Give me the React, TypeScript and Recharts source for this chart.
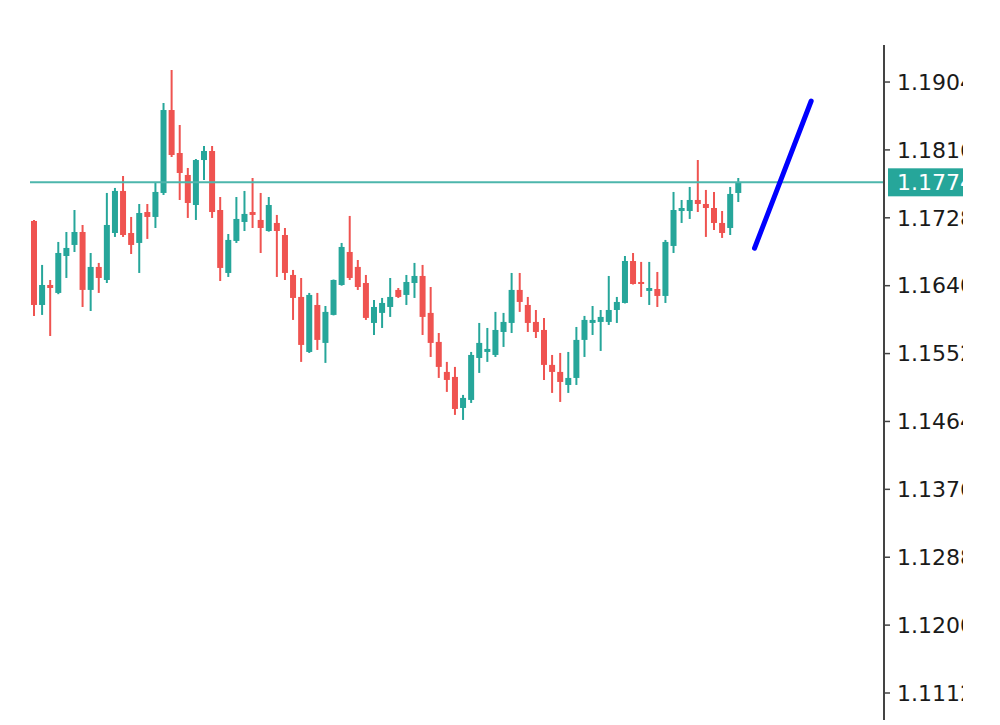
import { ComposedChart, Bar, Line, XAxis, YAxis, ReferenceLine } from "recharts";

const TEAL = "#26a69a";
const RED = "#ef5350";

// OHLC per candle
const opens = [
  1.17239, 1.1615, 1.16409, 1.16306, 1.16785, 1.16928, 1.17096, 1.16345, 1.16643, 1.16474,
  1.17083, 1.17628, 1.17083, 1.16954, 1.17355, 1.17291, 1.17602, 1.18677, 1.1812, 1.17835,
  1.17446, 1.18029, 1.18146, 1.17381, 1.16565, 1.1698, 1.17226, 1.17355, 1.17252, 1.17109,
  1.17213, 1.17057, 1.16539, 1.16254, 1.15541, 1.1615, 1.15658, 1.16021, 1.16409, 1.16837,
  1.16643, 1.16435, 1.15917, 1.16047, 1.16124, 1.16345, 1.1628, 1.16435, 1.16526, 1.16047,
  1.15671, 1.15282, 1.15217, 1.14815, 1.14919, 1.15463, 1.15541, 1.15502, 1.158, 1.15917,
  1.16345, 1.1615, 1.1593, 1.15826, 1.15373, 1.15282, 1.15113, 1.15204, 1.15697, 1.15917,
  1.1593, 1.1593, 1.16085, 1.16176, 1.1672, 1.16448, 1.16332, 1.16357, 1.16267, 1.16915,
  1.17368, 1.17368, 1.17511, 1.17459, 1.17407, 1.17213, 1.17148, 1.17602,
];
const highs = [
  1.17252, 1.16669, 1.16474, 1.16967, 1.17096, 1.17381, 1.17187, 1.16824, 1.16695, 1.17602,
  1.17667, 1.17822, 1.17291, 1.17459, 1.17459, 1.17731, 1.18768, 1.19196, 1.18483, 1.17926,
  1.18042, 1.18211, 1.18211, 1.1755, 1.1707, 1.1755, 1.17628, 1.17796, 1.17602, 1.1755,
  1.17317, 1.17148, 1.16604, 1.165, 1.16306, 1.16306, 1.16137, 1.1648, 1.16954, 1.17304,
  1.16733, 1.16539, 1.16215, 1.16241, 1.165, 1.1637, 1.16539, 1.16695, 1.16669, 1.16383,
  1.15787, 1.15412, 1.15347, 1.14984, 1.15541, 1.15917, 1.15852, 1.1606, 1.16047, 1.16565,
  1.16565, 1.16254, 1.16085, 1.15982, 1.15502, 1.15528, 1.15541, 1.15865, 1.16008, 1.16137,
  1.16085, 1.16526, 1.16254, 1.16785, 1.16824, 1.16708, 1.16708, 1.16578, 1.16993, 1.17615,
  1.17511, 1.1768, 1.18029, 1.17641, 1.17615, 1.17368, 1.1768, 1.17796,
];
const lows = [
  1.16008, 1.16021, 1.15748, 1.1629, 1.165, 1.16837, 1.16124, 1.16072, 1.16306, 1.16435,
  1.17032, 1.17032, 1.16811, 1.16565, 1.17006, 1.17148, 1.17576, 1.18068, 1.17511, 1.17278,
  1.17252, 1.1777, 1.17278, 1.16461, 1.16513, 1.16954, 1.17109, 1.17148, 1.16824, 1.171,
  1.16513, 1.16474, 1.15956, 1.15412, 1.15528, 1.15567, 1.15399, 1.16015, 1.164, 1.16474,
  1.16345, 1.15956, 1.15761, 1.15852, 1.15995, 1.16241, 1.1615, 1.16241, 1.15761, 1.15476,
  1.15204, 1.15023, 1.14725, 1.1466, 1.1488, 1.15269, 1.15412, 1.15476, 1.15606, 1.15787,
  1.1606, 1.158, 1.15722, 1.15178, 1.1501, 1.14893, 1.1501, 1.15113, 1.15476, 1.15761,
  1.15554, 1.15891, 1.15917, 1.1617, 1.16415, 1.16254, 1.1615, 1.16124, 1.16176, 1.16824,
  1.17213, 1.17265, 1.17355, 1.17032, 1.17122, 1.17019, 1.17057, 1.17485,
];
const closes = [
  1.1615, 1.16409, 1.1637, 1.16824, 1.16889, 1.17096, 1.16345, 1.16643, 1.165, 1.17187,
  1.17628, 1.17057, 1.16928, 1.17342, 1.17291, 1.17615, 1.18677, 1.18094, 1.17861, 1.17472,
  1.18029, 1.18146, 1.17355, 1.1663, 1.16993, 1.17265, 1.1733, 1.17317, 1.17148, 1.17446,
  1.17109, 1.16565, 1.16241, 1.15632, 1.1628, 1.15697, 1.1606, 1.16474, 1.16902, 1.165,
  1.16383, 1.15982, 1.16124, 1.16176, 1.16254, 1.16254, 1.16448, 1.16526, 1.15995, 1.15658,
  1.15347, 1.15178, 1.14802, 1.14945, 1.15502, 1.15658, 1.1558, 1.15826, 1.1593, 1.16345,
  1.16189, 1.15917, 1.158, 1.15373, 1.15282, 1.15152, 1.15204, 1.15697, 1.15956, 1.15956,
  1.15995, 1.16085, 1.16189, 1.1672, 1.16422, 1.16435, 1.1637, 1.16267, 1.16967, 1.17381,
  1.17407, 1.17511, 1.17459, 1.17407, 1.17213, 1.17083, 1.17589, 1.1774,
];

// blue trend line: two anchor slots and their prices
const trendSlots = [89, 96];
const trendPrices = [1.16885, 1.18794];

const currentPrice = 1.1774;
const priceTicks = [1.1112, 1.12, 1.1288, 1.1376, 1.1464, 1.1552, 1.164, 1.1728, 1.1816, 1.1904];
const slotCount = 105;

const data = Array.from({ length: slotCount }, (_, i) => {
  const t = trendSlots.indexOf(i);
  return {
    i,
    open: opens[i],
    high: highs[i],
    low: lows[i],
    close: closes[i],
    trend: t >= 0 ? trendPrices[t] : null,
  };
});

function Candle(props: any) {
  const { x, y, width, height, payload } = props;
  if (!payload || payload.open == null) return null;
  const { open, high, low, close } = payload;
  const color = close >= open ? TEAL : RED;
  const top = Math.min(y, y + height);
  const h = Math.abs(height);
  const k = h / (high - low || 1e-9);
  const bodyTop = top + (high - Math.max(open, close)) * k;
  const bodyH = Math.max(Math.abs(open - close) * k, 2);
  const cx = x + width / 2;
  return (
    <g>
      <line x1={cx} x2={cx} y1={top} y2={top + h} stroke={color} strokeWidth={2} />
      <rect x={x} y={bodyTop} width={width} height={bodyH} fill={color} />
    </g>
  );
}

function PriceTag(props: any) {
  const vb = props.viewBox || {};
  const axisX = (vb.x ?? 0) + (vb.width ?? 0);
  const cy = vb.y ?? 0;
  return (
    <g>
      <rect x={axisX + 4} y={cy - 14} width={120} height={28} fill={TEAL} />
      <text
        x={axisX + 13}
        y={cy}
        dy="0.36em"
        fill="#ffffff"
        fontSize={22}
        fontFamily="DejaVu Sans"
      >
        {currentPrice.toFixed(4)}
      </text>
    </g>
  );
}

export default function App() {
  return (
    <div style={{ position: "absolute", left: 0, top: 0, width: 1000, height: 725, background: "#fff" }}>
      <ComposedChart
        width={963}
        height={725}
        data={data}
        margin={{ top: 45, right: 0, bottom: 5, left: 30 }}
      >
        <XAxis dataKey="i" hide padding={{ left: 0, right: 4 }} />
        <YAxis
          orientation="right"
          width={79}
          domain={[1.1077, 1.1952]}
          ticks={priceTicks}
          allowDataOverflow
          tickFormatter={(v: number) => v.toFixed(4)}
          axisLine={{ stroke: "#444", strokeWidth: 2 }}
          tickLine={{ stroke: "#444", strokeWidth: 1.5 }}
          tickSize={6}
          tickMargin={7}
          tick={{ fontSize: 22, fontFamily: "DejaVu Sans", fill: "#1a1a1a" }}
        />
        <ReferenceLine
          y={currentPrice}
          stroke="#4db6ac"
          strokeWidth={2}
          label={(p: any) => <PriceTag {...p} />}
        />
        <Bar
          dataKey={(d: any) => (d.low == null ? null : [d.low, d.high])}
          barSize={6}
          shape={(p: any) => <Candle {...p} />}
          isAnimationActive={false}
        />
        <Line
          dataKey="trend"
          type="linear"
          stroke="#0000ff"
          strokeWidth={5}
          strokeLinecap="round"
          dot={false}
          connectNulls
          isAnimationActive={false}
        />
      </ComposedChart>
    </div>
  );
}
